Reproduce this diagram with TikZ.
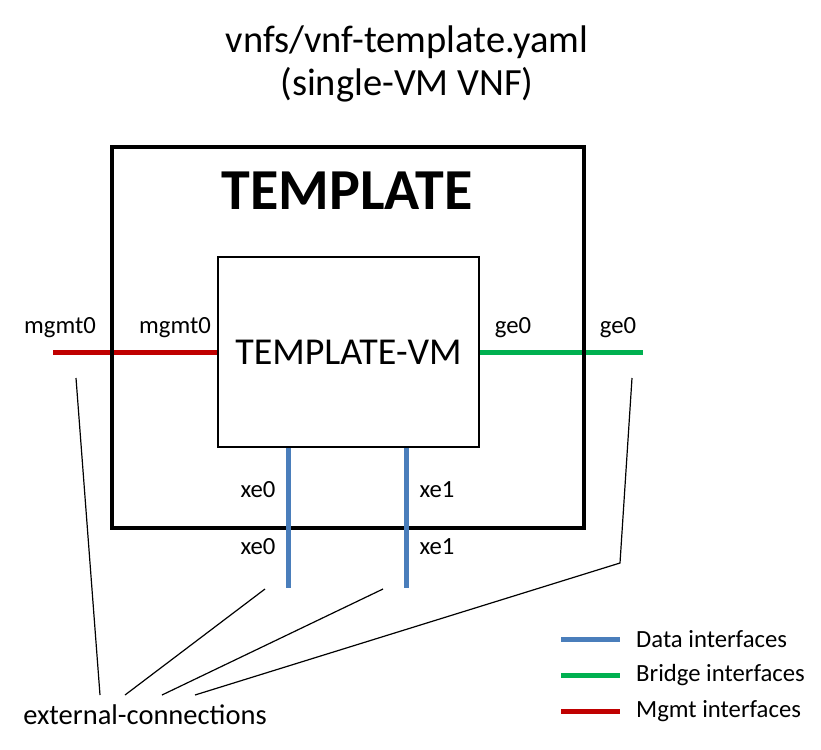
\documentclass[tikz,border=0pt]{standalone}
\usepackage{fontspec}
\setmainfont{Carlito}
\usetikzlibrary{positioning,calc}
\definecolor{datablue}{HTML}{4A7EBB}
\definecolor{bridgegreen}{HTML}{00B050}
\definecolor{mgmtred}{HTML}{C00000}

\begin{document}
\begin{tikzpicture}[x=1pt, y=-1pt,
  vnfbox/.style={draw, line width=4pt, minimum width=472pt,
                 minimum height=381pt, inner sep=0pt},
  vmbox/.style={draw, line width=1.5pt, minimum width=261pt,
                minimum height=190pt, inner sep=0pt,
                font=\fontsize{38}{42}\selectfont},
  iflabel/.style={font=\fontsize{24.7}{28}\selectfont, inner sep=0pt},
  datalink/.style={datablue, line width=5pt},
  bridgelink/.style={bridgegreen, line width=5pt},
  mgmtlink/.style={mgmtred, line width=5pt},
  pointer/.style={black, line width=1.2pt},
]
  \useasboundingbox (0,0) rectangle (821,749);

  \node[align=center, font=\fontsize{38.5}{43}\selectfont] (title) at (407,64)
    {vnfs/vnf-template.yaml\\(single-VM VNF)};

  % VM first, then the links, then the VNF frame on top
  \node[vmbox] (vm) at (348.5,352) {TEMPLATE-VM};

  \coordinate (mgmt-ext) at (53,352);
  \coordinate (ge-ext) at (643,352);
  \draw[mgmtlink] (mgmt-ext) -- (vm.west);
  \draw[bridgelink] (vm.east) -- (ge-ext);

  \node[vnfbox] (vnf) at (348,337.5) {};
  \node[font=\bfseries\fontsize{58}{62}\selectfont] (vnfname) at (347,191)
    {TEMPLATE};

  \coordinate (xe0-ext) at (288,588);
  \coordinate (xe1-ext) at (406,588);
  \draw[datalink] (xe0-ext |- vm.south) -- (xe0-ext);
  \draw[datalink] (xe1-ext |- vm.south) -- (xe1-ext);

  % interface names
  \node[iflabel] (mgmt-out) at (60,328) {mgmt0};
  \node[iflabel] (mgmt-in) at (175,328) {mgmt0};
  \node[iflabel] (ge-in) at (513,328) {ge0};
  \node[iflabel] (ge-out) at (618,328) {ge0};
  \node[iflabel] (xe0-in) at (258,490) {xe0};
  \node[iflabel] (xe0-out) at (258,547) {xe0};
  \node[iflabel] (xe1-in) at (437,490) {xe1};
  \node[iflabel] (xe1-out) at (437,547) {xe1};

  % external connections
  \node[font=\fontsize{28.5}{32}\selectfont] (ext) at (145,715)
    {external-connections};
  \coordinate (mgmt-tip) at (76,378);
  \coordinate (xe0-tip) at (265,589);
  \coordinate (xe1-tip) at (383,589);
  \coordinate (ge-tip) at (632,378);
  \coordinate (ge-bend) at (620,563);
  \coordinate (ext-a) at (100,695);
  \coordinate (ext-b) at (125,695);
  \coordinate (ext-c) at (162,695);
  \coordinate (ext-d) at (195,695);
  \foreach \tip/\end in {mgmt-tip/ext-a, xe0-tip/ext-b, xe1-tip/ext-c}
    \draw[pointer] (\tip) -- (\end);
  \draw[pointer] (ge-tip) -- (ge-bend) -- (ext-d);

  % legend
  \foreach \kind/\txt/\y in {data/Data/639, bridge/Bridge/675, mgmt/Mgmt/711} {
    \coordinate (\kind-a) at (561,\y);
    \coordinate (\kind-b) at (620,\y);
    \draw[\kind link] (\kind-a) -- (\kind-b);
    \node[iflabel, anchor=west] (\kind-txt) at (636,\y) {\txt{} interfaces};
  }
\end{tikzpicture}
\end{document}
